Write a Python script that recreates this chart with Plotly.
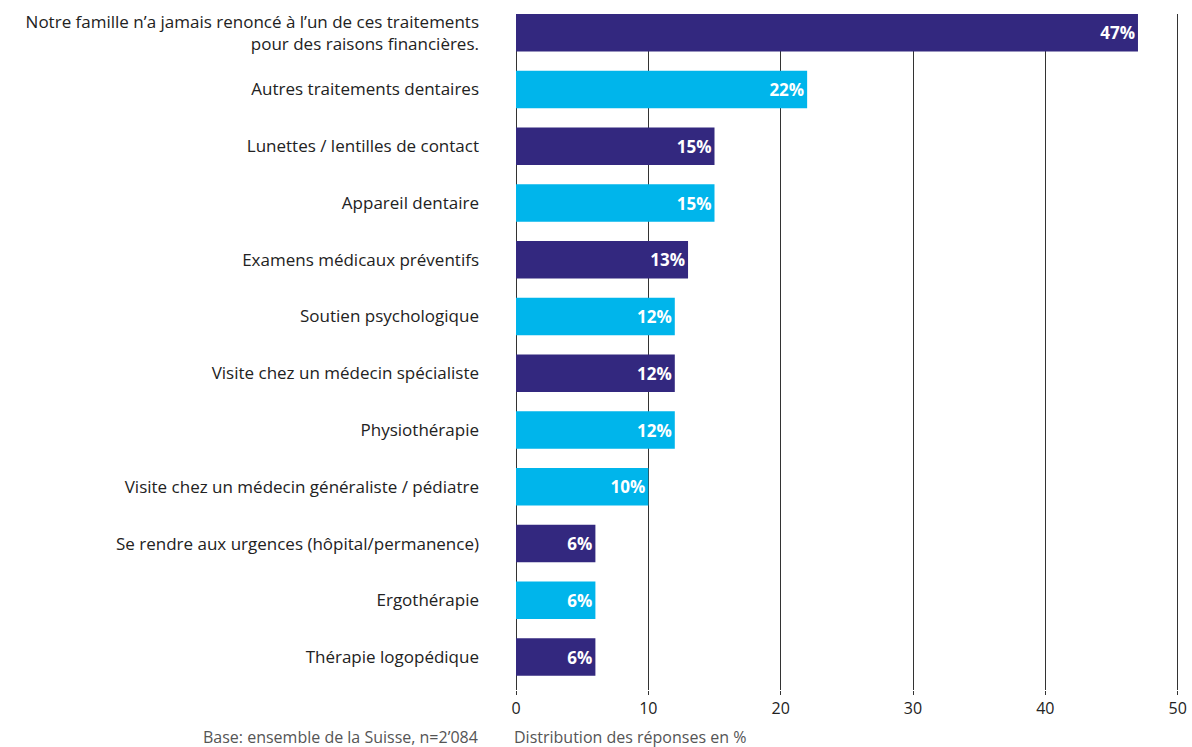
import plotly.graph_objects as go

categories = [
    "Notre famille n’a jamais renoncé à l’un de ces traitements<br>pour des raisons financières.",
    "Autres traitements dentaires",
    "Lunettes / lentilles de contact",
    "Appareil dentaire",
    "Examens médicaux préventifs",
    "Soutien psychologique",
    "Visite chez un médecin spécialiste",
    "Physiothérapie",
    "Visite chez un médecin généraliste / pédiatre",
    "Se rendre aux urgences (hôpital/permanence)",
    "Ergothérapie",
    "Thérapie logopédique",
]
values = [47, 22, 15, 15, 13, 12, 12, 12, 10, 6, 6, 6]
DARK = "#33287f"
CYAN = "#00b5eb"
color_groups = ["d", "c", "d", "c", "d", "c", "d", "c", "c", "d", "c", "d"]
colors = [DARK if g == "d" else CYAN for g in color_groups]
labels = [f"{v}%" for v in values]

FONT = "Open Sans"

fig = go.Figure()
fig.add_trace(go.Bar(
    y=list(range(len(categories))),
    x=values,
    orientation="h",
    marker=dict(color=colors, line=dict(width=0)),
    width=0.66,
    text=labels,
    textposition="inside",
    insidetextanchor="end",
    textfont=dict(family=FONT, size=17, color="white", weight="bold"),
    cliponaxis=False,
    hoverinfo="skip",
))

fig.update_layout(
    width=1192, height=747,
    margin=dict(l=516, r=13, t=14, b=57, autoexpand=False),
    paper_bgcolor="white", plot_bgcolor="white",
    showlegend=False,
    font=dict(family=FONT, size=17, color="#222"),
    xaxis=dict(
        range=[0, 50.1], tickvals=[0, 10, 20, 30, 40, 50],
        showgrid=True, gridcolor="#333", gridwidth=1,
        zeroline=True, zerolinecolor="#333", zerolinewidth=1,
        ticks="outside", ticklen=4, tickcolor="#333", tickwidth=1,
        showline=False, tickfont=dict(size=16, color="#222"),
        ticklabeloverflow="allow", fixedrange=True, automargin=False,
    ),
    yaxis=dict(
        tickvals=list(range(len(categories))), ticktext=categories,
        range=[11.58, -0.33], showgrid=False, zeroline=False, showline=False,
        ticks="", ticklabelstandoff=36, tickfont=dict(size=17, color="#222"),
        automargin=False, fixedrange=True,
    ),
)

fig.add_annotation(text="Base: ensemble de la Suisse, n=2’084", xref="paper", yref="paper",
                   x=0, xshift=-36, y=0, yshift=-47, xanchor="right", yanchor="middle",
                   showarrow=False, font=dict(size=16, color="#555"))
fig.add_annotation(text="Distribution des réponses en %", xref="paper", yref="paper",
                   x=0, xshift=-4, y=0, yshift=-47, xanchor="left", yanchor="middle",
                   showarrow=False, font=dict(size=16, color="#555"))

fig.write_html("out.html", config={"displayModeBar": False},
               post_script="document.body.style.margin='0';document.body.style.overflow='hidden';")
